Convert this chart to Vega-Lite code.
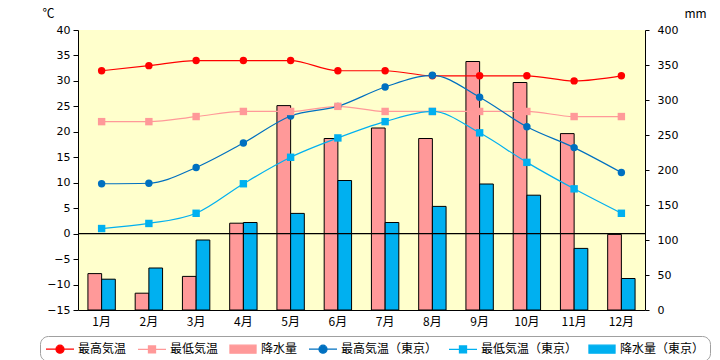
{
  "$schema": "https://vega.github.io/schema/vega-lite/v6.json",
  "width": 567,
  "height": 280,
  "autosize": {"type": "none"},
  "padding": {"left": 78, "top": 30, "right": 75, "bottom": 50},
  "background": "white",
  "config": {
    "font": "Noto Sans CJK JP",
    "view": {"fill": "#ffffcc", "stroke": null},
    "axis": {
      "labelFont": "DejaVu Sans",
      "labelFontSize": 11,
      "labelColor": "black",
      "labelOverlap": false,
      "domainColor": "black",
      "tickColor": "black",
      "grid": false,
      "titleFont": "Noto Sans CJK JP",
      "titleFontWeight": "normal",
      "titleFontSize": 12,
      "titleColor": "black"
    },
    "axisY": {"labelOverlap": false},
    "axisLeft": {"labelOverlap": false},
    "axisQuantitative": {"labelOverlap": false},
    "legend": {
      "orient": "none", "legendX": -38, "legendY": 306,
      "direction": "horizontal", "columns": 6, "title": null,
      "symbolSize": 196, "symbolOffset": 7, "symbolOpacity": 1, "symbolStrokeWidth": 1.3,
      "labelFontSize": 12, "labelFont": "Noto Sans CJK JP", "labelColor": "black",
      "labelOffset": 10, "columnPadding": 8, "padding": 5,
      "strokeColor": "#a0a0a0", "cornerRadius": 8, "fillColor": "white"
    }
  },
  "datasets": {
    "rain": [
      {"month": "1月", "series": "降水量", "value": 52},
      {"month": "2月", "series": "降水量", "value": 24},
      {"month": "3月", "series": "降水量", "value": 48},
      {"month": "4月", "series": "降水量", "value": 124},
      {"month": "5月", "series": "降水量", "value": 292},
      {"month": "6月", "series": "降水量", "value": 245},
      {"month": "7月", "series": "降水量", "value": 260},
      {"month": "8月", "series": "降水量", "value": 245},
      {"month": "9月", "series": "降水量", "value": 355},
      {"month": "10月", "series": "降水量", "value": 325},
      {"month": "11月", "series": "降水量", "value": 252},
      {"month": "12月", "series": "降水量", "value": 108},
      {"month": "1月", "series": "降水量（東京）", "value": 44},
      {"month": "2月", "series": "降水量（東京）", "value": 60},
      {"month": "3月", "series": "降水量（東京）", "value": 100},
      {"month": "4月", "series": "降水量（東京）", "value": 125},
      {"month": "5月", "series": "降水量（東京）", "value": 138},
      {"month": "6月", "series": "降水量（東京）", "value": 185},
      {"month": "7月", "series": "降水量（東京）", "value": 125},
      {"month": "8月", "series": "降水量（東京）", "value": 148},
      {"month": "9月", "series": "降水量（東京）", "value": 180},
      {"month": "10月", "series": "降水量（東京）", "value": 164},
      {"month": "11月", "series": "降水量（東京）", "value": 88},
      {"month": "12月", "series": "降水量（東京）", "value": 45}
    ],
    "temp": [
      {"month": "1月", "series": "最高気温", "value": 32},
      {"month": "2月", "series": "最高気温", "value": 33},
      {"month": "3月", "series": "最高気温", "value": 34},
      {"month": "4月", "series": "最高気温", "value": 34},
      {"month": "5月", "series": "最高気温", "value": 34},
      {"month": "6月", "series": "最高気温", "value": 32},
      {"month": "7月", "series": "最高気温", "value": 32},
      {"month": "8月", "series": "最高気温", "value": 31},
      {"month": "9月", "series": "最高気温", "value": 31},
      {"month": "10月", "series": "最高気温", "value": 31},
      {"month": "11月", "series": "最高気温", "value": 30},
      {"month": "12月", "series": "最高気温", "value": 31},
      {"month": "1月", "series": "最低気温", "value": 22},
      {"month": "2月", "series": "最低気温", "value": 22},
      {"month": "3月", "series": "最低気温", "value": 23},
      {"month": "4月", "series": "最低気温", "value": 24},
      {"month": "5月", "series": "最低気温", "value": 24},
      {"month": "6月", "series": "最低気温", "value": 25},
      {"month": "7月", "series": "最低気温", "value": 24},
      {"month": "8月", "series": "最低気温", "value": 24},
      {"month": "9月", "series": "最低気温", "value": 24},
      {"month": "10月", "series": "最低気温", "value": 24},
      {"month": "11月", "series": "最低気温", "value": 23},
      {"month": "12月", "series": "最低気温", "value": 23},
      {"month": "1月", "series": "最高気温（東京）", "value": 9.8},
      {"month": "2月", "series": "最高気温（東京）", "value": 9.9},
      {"month": "3月", "series": "最高気温（東京）", "value": 13.0},
      {"month": "4月", "series": "最高気温（東京）", "value": 17.8},
      {"month": "5月", "series": "最高気温（東京）", "value": 23.1},
      {"month": "6月", "series": "最高気温（東京）", "value": 25.0},
      {"month": "7月", "series": "最高気温（東京）", "value": 28.8},
      {"month": "8月", "series": "最高気温（東京）", "value": 31.1},
      {"month": "9月", "series": "最高気温（東京）", "value": 26.8},
      {"month": "10月", "series": "最高気温（東京）", "value": 21.0},
      {"month": "11月", "series": "最高気温（東京）", "value": 16.9},
      {"month": "12月", "series": "最高気温（東京）", "value": 12.0},
      {"month": "1月", "series": "最低気温（東京）", "value": 1.0},
      {"month": "2月", "series": "最低気温（東京）", "value": 2.0},
      {"month": "3月", "series": "最低気温（東京）", "value": 4.0},
      {"month": "4月", "series": "最低気温（東京）", "value": 9.8},
      {"month": "5月", "series": "最低気温（東京）", "value": 15.0},
      {"month": "6月", "series": "最低気温（東京）", "value": 18.8},
      {"month": "7月", "series": "最低気温（東京）", "value": 22.0},
      {"month": "8月", "series": "最低気温（東京）", "value": 24.0},
      {"month": "9月", "series": "最低気温（東京）", "value": 19.8},
      {"month": "10月", "series": "最低気温（東京）", "value": 14.0},
      {"month": "11月", "series": "最低気温（東京）", "value": 8.8},
      {"month": "12月", "series": "最低気温（東京）", "value": 4.0}
    ]
  },
  "layer": [
    {
      "data": {"name": "rain"},
      "mark": {"type": "bar", "stroke": "black", "strokeWidth": 1},
      "encoding": {
        "x": {
          "field": "month", "type": "nominal", "sort": null,
          "scale": {"domain": ["1月","2月","3月","4月","5月","6月","7月","8月","9月","10月","11月","12月"], "paddingInner": 0.42, "paddingOuter": 0.21},
          "axis": {"title": null, "labelAngle": 0, "ticks": false, "labelPadding": 6, "domain": true, "labelFont": "Noto Sans CJK JP", "labelFontSize": 12}
        },
        "xOffset": {"field": "series", "type": "nominal", "scale": {"domain": ["降水量", "降水量（東京）"]}},
        "y": {
          "field": "value", "type": "quantitative",
          "scale": {"domain": [0, 400], "nice": false},
          "axis": {"orient": "right", "values": [0,50,100,150,200,250,300,350,400], "labelOverlap": false, "tickSize": 4, "labelPadding": 8, "title": "mm", "titleAngle": 0, "titleAlign": "center", "titleBaseline": "middle", "titleX": 50, "titleY": -17}
        },
        "color": {
          "field": "series", "type": "nominal",
          "scale": {
            "domain": ["最高気温", "最低気温", "降水量", "最高気温（東京）", "最低気温（東京）", "降水量（東京）"],
            "range": ["#ff0000", "#ff9999", "#ff9999", "#0070c0", "#00b0f0", "#00b0f0"]
          }
        }
      }
    },
    {
      "layer": [
        {
          "data": {"values": [{}]},
          "mark": {"type": "rule", "color": "black", "strokeWidth": 1.2},
          "encoding": {"y": {"datum": 0, "type": "quantitative", "axis": {"orient": "left", "values": [-15,-10,-5,0,5,10,15,20,25,30,35,40], "labelOverlap": false, "tickSize": 5, "labelPadding": 3, "title": "℃", "titleAngle": 0, "titleAlign": "center", "titleBaseline": "middle", "titleX": -30, "titleY": -17}}}
        },
        {
          "data": {"name": "temp"},
          "mark": {"type": "line", "interpolate": "monotone", "strokeWidth": 1.2},
          "encoding": {
            "x": {"field": "month", "type": "nominal", "sort": null},
            "y": {
              "field": "value", "type": "quantitative",
              "scale": {"domain": [-15, 40], "nice": false},
              "axis": {"orient": "left", "values": [-15,-10,-5,0,5,10,15,20,25,30,35,40], "labelOverlap": false, "tickSize": 5, "labelPadding": 3, "title": "℃", "titleAngle": 0, "titleAlign": "center", "titleBaseline": "middle", "titleX": -30, "titleY": -17}
            },
            "color": {"field": "series", "type": "nominal"},
            "detail": {"field": "series"}
          }
        },
        {
          "data": {"name": "temp"},
          "transform": [{"filter": {"field": "series", "oneOf": ["最高気温", "最高気温（東京）"]}}],
          "mark": {"type": "point", "shape": "circle", "filled": true, "opacity": 1, "size": 55},
          "encoding": {
            "x": {"field": "month", "type": "nominal", "sort": null},
            "y": {"field": "value", "type": "quantitative", "axis": {"orient": "left", "values": [-15,-10,-5,0,5,10,15,20,25,30,35,40], "labelOverlap": false, "tickSize": 5, "labelPadding": 3, "title": "℃", "titleAngle": 0, "titleAlign": "center", "titleBaseline": "middle", "titleX": -30, "titleY": -17}},
            "color": {"field": "series", "type": "nominal"}
          }
        },
        {
          "data": {"name": "temp"},
          "transform": [{"filter": {"field": "series", "oneOf": ["最低気温", "最低気温（東京）"]}}],
          "mark": {"type": "point", "shape": "square", "filled": true, "opacity": 1, "size": 55},
          "encoding": {
            "x": {"field": "month", "type": "nominal", "sort": null},
            "y": {"field": "value", "type": "quantitative", "axis": {"orient": "left", "values": [-15,-10,-5,0,5,10,15,20,25,30,35,40], "labelOverlap": false, "tickSize": 5, "labelPadding": 3, "title": "℃", "titleAngle": 0, "titleAlign": "center", "titleBaseline": "middle", "titleX": -30, "titleY": -17}},
            "color": {"field": "series", "type": "nominal"}
          }
        },
        {
          "data": {"name": "temp"},
          "transform": [{"filter": "datum.value < -1000"}],
          "mark": {"type": "point", "filled": true, "opacity": 1},
          "encoding": {
            "x": {"field": "month", "type": "nominal", "sort": null},
            "y": {"field": "value", "type": "quantitative", "axis": {"orient": "left", "values": [-15,-10,-5,0,5,10,15,20,25,30,35,40], "labelOverlap": false, "tickSize": 5, "labelPadding": 3, "title": "℃", "titleAngle": 0, "titleAlign": "center", "titleBaseline": "middle", "titleX": -30, "titleY": -17}},
            "color": {"field": "series", "type": "nominal"},
            "shape": {
              "field": "series", "type": "nominal",
              "scale": {
                "domain": ["最高気温", "最低気温", "降水量", "最高気温（東京）", "最低気温（東京）", "降水量（東京）"],
                "range": [
                  "M-2,0H2M-0.57,0A0.57,0.57 0 1,0 0.57,0A0.57,0.57 0 1,0 -0.57,0Z",
                  "M-2,0H2M-0.5,-0.5H0.5V0.5H-0.5Z",
                  "M-1.86,-0.57H1.86V0.57H-1.86Z",
                  "M-2,0H2M-0.57,0A0.57,0.57 0 1,0 0.57,0A0.57,0.57 0 1,0 -0.57,0Z",
                  "M-2,0H2M-0.5,-0.5H0.5V0.5H-0.5Z",
                  "M-1.86,-0.57H1.86V0.57H-1.86Z"
                ]
              }
            }
          }
        }
      ]
    }
  ],
  "resolve": {"scale": {"y": "independent"}, "axis": {"y": "independent"}}
}
